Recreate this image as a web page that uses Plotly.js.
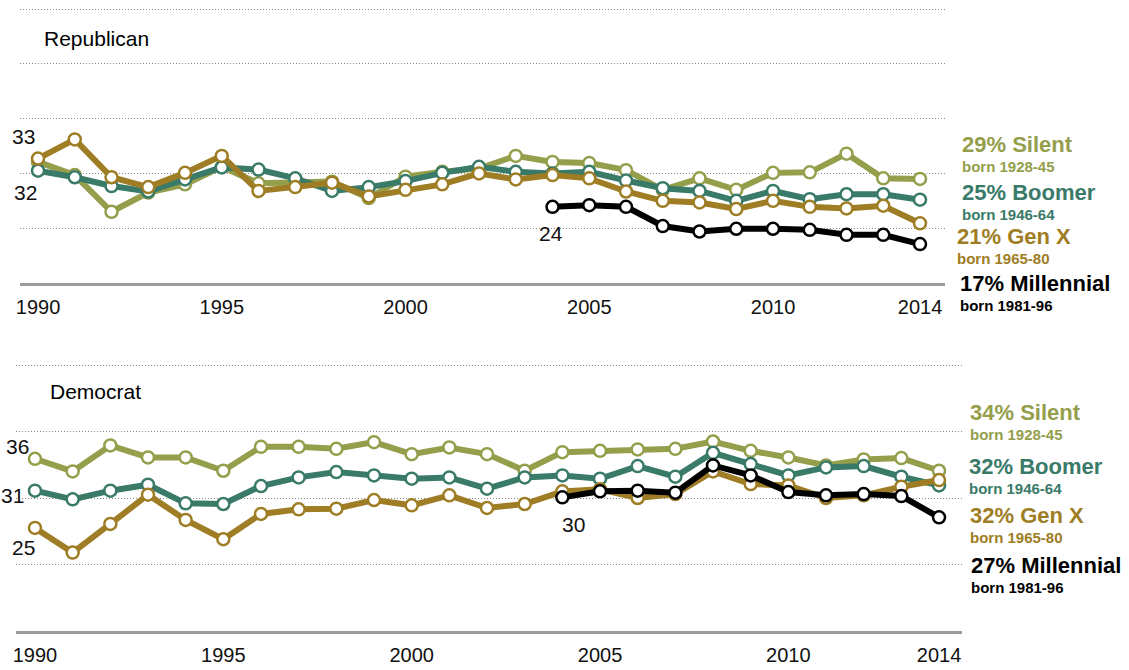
<!DOCTYPE html>
<html>
<head>
<meta charset="utf-8">
<script src="https://cdn.plot.ly/plotly-3.0.1.min.js"></script>
<style>html,body{margin:0;padding:0;background:#fff;}#chart{width:1129px;height:670px;}</style>
</head>
<body>
<div id="chart"></div>
<script>
// ---------- data ----------
const years = [1990,1991,1992,1993,1994,1995,1996,1997,1998,1999,2000,2001,2002,2003,2004,2005,2006,2007,2008,2009,2010,2011,2012,2013,2014];
const millYears = [2004,2005,2006,2007,2008,2009,2010,2011,2012,2013,2014];
const tickYears = [1990,1995,2000,2005,2010,2014];

const repSilent = [32.1,29.7,23.0,26.5,28.0,31.2,28.2,28.3,28.5,25.5,29.4,30.3,30.9,33.2,32.1,31.9,30.6,27.0,29.1,27.0,30.1,30.2,33.6,29.1,29.0];
const repBoomer = [30.5,29.3,27.7,26.7,28.9,31.1,30.7,29.1,26.8,27.5,28.6,30.1,31.2,30.3,30.0,30.3,28.7,27.3,26.8,25.0,26.8,25.3,26.2,26.2,25.2];
const repGenX   = [32.7,36.2,29.3,27.5,30.1,33.2,26.8,27.5,28.3,25.8,27.0,28.0,30.0,28.9,29.7,29.1,26.7,25.0,24.7,23.5,25.0,23.9,23.6,24.1,20.9];
const repMill   = [23.9,24.2,23.9,20.4,19.4,19.9,19.9,19.7,18.8,18.8,17.1];

const demSilent = [35.9,34.0,37.9,36.1,36.1,34.1,37.7,37.7,37.4,38.4,36.6,37.6,36.6,34.1,36.9,37.1,37.3,37.4,38.5,37.1,36.1,34.9,35.8,36.0,34.1];
const demBoomer = [31.1,29.8,31.1,32.0,29.2,29.1,31.8,33.1,33.9,33.4,32.9,33.1,31.4,33.1,33.4,32.9,34.8,33.2,36.8,35.1,33.4,34.6,34.8,33.2,31.9];
const demGenX   = [25.5,21.8,26.1,30.5,26.7,23.8,27.6,28.3,28.4,29.7,28.9,30.4,28.5,29.1,31.0,31.3,30.0,30.6,34.0,32.1,31.9,30.0,30.4,31.7,32.7];
const demMill   = [30.1,31.0,31.1,30.8,34.9,33.4,30.9,30.4,30.6,30.3,27.1];

const seriesNames = ['Silent','Boomer','Gen X','Millennial'];
const bornLabels = ['born 1928-45','born 1946-64','born 1965-80','born 1981-96'];
const repEnd = ['29%','25%','21%','17%'];
const demEnd = ['34%','32%','32%','27%'];

// ---------- styling ----------
const colors = ['#949e4b','#397a68','#9e7d24','#000000'];
const W = 1129, H = 670;
const px = x => x / W;
const py = y => 1 - y / H;
const FONT = 'Liberation Sans, Arial, sans-serif';

function trace(x, y, i, xa, ya) {
  return {
    x: x, y: y, xaxis: xa, yaxis: ya, name: seriesNames[i],
    type: 'scatter', mode: 'lines+markers',
    line: {color: colors[i], width: 6},
    marker: {symbol: 'circle', size: 12, color: '#ffffff', line: {color: colors[i], width: 2.5}},
    hoverinfo: 'skip', showlegend: false, cliponaxis: false
  };
}

const data = [
  trace(years, repSilent, 0, 'x', 'y'),
  trace(years, repBoomer, 1, 'x', 'y'),
  trace(years, repGenX, 2, 'x', 'y'),
  trace(millYears, repMill, 3, 'x', 'y'),
  trace(years, demSilent, 0, 'x2', 'y2'),
  trace(years, demBoomer, 1, 'x2', 'y2'),
  trace(years, demGenX, 2, 'x2', 'y2'),
  trace(millYears, demMill, 3, 'x2', 'y2')
];

const ann = [];
function txt(text, x, y, size, color, bold, xanchor) {
  ann.push({
    text: bold ? '<b>' + text + '</b>' : text,
    xref: 'paper', yref: 'paper', x: px(x), y: py(y),
    xanchor: xanchor || 'left', yanchor: 'middle', showarrow: false,
    font: {family: FONT, size: size, color: color}
  });
}
// panel titles
txt('Republican', 42, 39, 21, '#000', false);
txt('Democrat', 48, 391, 21, '#000', false);
// start/end value labels
txt('33', 23, 137, 21, '#111', false, 'center');
txt('32', 25, 193, 21, '#111', false, 'center');
txt('24', 551, 233, 21, '#111', false, 'center');
txt('36', 17, 447, 21, '#111', false, 'center');
txt('31', 12, 495, 21, '#111', false, 'center');
txt('25', 23, 547, 21, '#111', false, 'center');
txt('30', 573, 524, 21, '#111', false, 'center');
// right-hand labels
const repLabX = [960, 960, 955, 958];
const repLabY = [145, 192, 237, 284];
const demLabX = [968, 967, 968, 969];
const demLabY = [412, 466, 515, 565];
for (let i = 0; i < 4; i++) {
  txt(repEnd[i] + ' ' + seriesNames[i], repLabX[i], repLabY[i], 22, colors[i], true);
  txt(bornLabels[i], repLabX[i], repLabY[i] + 22, 15, colors[i], true);
  txt(demEnd[i] + ' ' + seriesNames[i], demLabX[i], demLabY[i], 22, colors[i], true);
  txt(bornLabels[i], demLabX[i], demLabY[i] + 22, 15, colors[i], true);
}

const gridCommon = {
  showticklabels: false, showgrid: true, gridcolor: '#8a8a8a', gridwidth: 1,
  griddash: '1px,2px', zeroline: false, showline: false, ticks: '', fixedrange: true
};
const xCommon = {
  tickmode: 'array', tickvals: tickYears, ticktext: tickYears.map(String),
  showgrid: false, zeroline: false, showline: true, linecolor: '#9b9b9b', linewidth: 3,
  ticks: 'outside', ticklen: 4, tickcolor: 'rgba(0,0,0,0)',
  tickfont: {family: FONT, size: 20, color: '#111'}, fixedrange: true
};

const layout = {
  width: W, height: H,
  margin: {l: 0, r: 0, t: 0, b: 0},
  paper_bgcolor: '#fff', plot_bgcolor: '#fff',
  showlegend: false,
  font: {family: FONT},
  xaxis: Object.assign({}, xCommon, {domain: [px(20), px(945)], range: [1989.51, 2014.68], anchor: 'y'}),
  yaxis: Object.assign({}, gridCommon, {domain: [py(283), py(6.3)], range: [10, 60.5], tickvals: [20,30,40,50,60], anchor: 'x'}),
  xaxis2: Object.assign({}, xCommon, {domain: [px(16), px(962)], range: [1989.496, 2014.61], anchor: 'y2'}),
  yaxis2: Object.assign({}, gridCommon, {domain: [py(631), py(361.7)], range: [10, 50.5], tickvals: [20,30,40,50], anchor: 'x2'}),
  annotations: ann
};

Plotly.newPlot('chart', data, layout, {displayModeBar: false, staticPlot: true});
</script>
</body>
</html>
